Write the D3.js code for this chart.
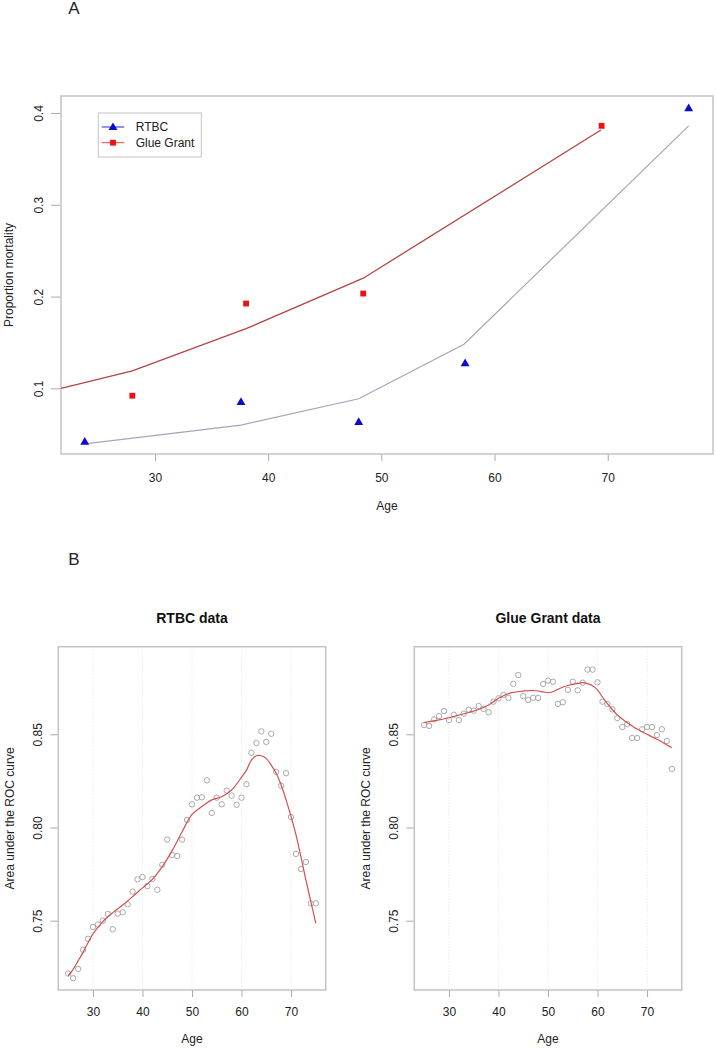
<!DOCTYPE html>
<html>
<head>
<meta charset="utf-8">
<script src="https://cdn.jsdelivr.net/npm/d3@7"></script>
<style>
  body { margin: 0; background: #fff; }
  svg { display: block; font-family: "Liberation Sans", Arial, sans-serif; }
</style>
</head>
<body>
<svg id="chart" width="716" height="1050"></svg>
<script>
// ---------- Panel A data ----------
const rtbcAges = [23.8, 37.6, 48.0, 57.4, 77.15];
const rtbcObserved = [0.0425, 0.0858, 0.064, 0.128, 0.4058];
const rtbcFitAges = [23.8, 37.6, 48.0, 57.3, 77.15];
const rtbcFitted = [0.0396, 0.060, 0.0887, 0.148, 0.386];

const glueAges = [28.0, 38.05, 48.4, 69.46];
const glueObserved = [0.092, 0.1924, 0.2033, 0.386];
const glueFitAges = [21.7, 28.0, 38.05, 48.4, 69.4];
const glueFitted = [0.100, 0.119, 0.165, 0.220, 0.3815];

const xTicksA = [30, 40, 50, 60, 70];
const yTicksA = [0.1, 0.2, 0.3, 0.4];
const legendLabels = ["RTBC", "Glue Grant"];

// ---------- Panel B data ----------
const aucAges = d3.range(25, 76); // 25..75 (one point per year of age)
const rtbcAUC = [
  0.7216, 0.7191, 0.7241, 0.7344, 0.7403, 0.7466, 0.7479, 0.7500, 0.7536, 0.7454,
  0.7538, 0.7545, 0.7588, 0.7656, 0.7722, 0.7734, 0.7685, 0.7724, 0.7666, 0.7800,
  0.7935, 0.7852, 0.7847, 0.7935, 0.8040, 0.8124, 0.8160, 0.8162, 0.8253, 0.8078,
  0.8160, 0.8124, 0.8198, 0.8171, 0.8122, 0.8160, 0.8232, 0.8401, 0.8453, 0.8516,
  0.8459, 0.8503, 0.8298, 0.8224, 0.8291, 0.8056, 0.7858, 0.7777, 0.7815, 0.7593,
  0.7593
];
const glueAUC = [
  0.8550, 0.8545, 0.8580, 0.8598, 0.8625, 0.8577, 0.8605, 0.8577, 0.8611, 0.8632,
  0.8627, 0.8652, 0.8636, 0.8618, 0.8675, 0.8693, 0.8711, 0.8695, 0.8771, 0.8818,
  0.8705, 0.8684, 0.8696, 0.8695, 0.8770, 0.8788, 0.8782, 0.8663, 0.8672, 0.8738,
  0.8782, 0.8736, 0.8777, 0.8847, 0.8847, 0.8779, 0.8675, 0.8663, 0.8634, 0.8587,
  0.8539, 0.8555, 0.8480, 0.8480, 0.8527, 0.8539, 0.8539, 0.8496, 0.8527, 0.8464,
  0.8314
];
// smoothed (loess) curves
const rtbcSmoothAges = [25, 26, 27, 28, 29, 30, 32, 34, 36, 38, 40, 42, 44, 46, 48, 50, 52, 54, 56, 58, 60, 61, 62, 63, 64, 65, 66, 67, 68, 69, 70, 71, 72, 73, 74, 75];
const rtbcSmooth = [0.7205, 0.7239, 0.7284, 0.7330, 0.7382, 0.7429, 0.7495, 0.7543, 0.7584, 0.7629, 0.7676, 0.7722, 0.7790, 0.7876, 0.7977, 0.8070, 0.8112, 0.8148, 0.8165, 0.8201, 0.8269, 0.8308, 0.8362, 0.8385, 0.8385, 0.8371, 0.8335, 0.8291, 0.8228, 0.8148, 0.8058, 0.7960, 0.7843, 0.7718, 0.7602, 0.7486];
const glueSmoothAges = [25, 28, 30, 32, 34, 36, 38, 39, 40, 41, 42, 43, 45, 47, 49, 50, 51, 52, 54, 56, 57, 58, 59, 60, 61, 62, 63, 64, 65, 66, 67, 68, 70, 72, 74, 75];
const glueSmooth = [0.8563, 0.8577, 0.8589, 0.8603, 0.8617, 0.8633, 0.8657, 0.8675, 0.8693, 0.8707, 0.8718, 0.8725, 0.8732, 0.8735, 0.8728, 0.8723, 0.8728, 0.8742, 0.8762, 0.8773, 0.8777, 0.8772, 0.8760, 0.8738, 0.8700, 0.8665, 0.8633, 0.8604, 0.8582, 0.8562, 0.8545, 0.8528, 0.8500, 0.8473, 0.8443, 0.8428];

const xTicksB = [30, 40, 50, 60, 70];
const yTicksB = [0.75, 0.80, 0.85];
const panelTitles = ["RTBC data", "Glue Grant data"];

// ---------- drawing ----------
const svg = d3.select("#chart");
const textCol = "#222";
const boxCol = "#c4c4c4";
const zip = (a, b) => a.map((v, i) => [v, b[i]]);

function styleAxis(g) {
  g.select(".domain").remove();
  g.selectAll(".tick line").attr("stroke", "#aaa").attr("stroke-width", 1);
  g.selectAll(".tick text").attr("fill", textCol).attr("font-size", 12)
    .attr("font-family", "Liberation Sans, Arial, sans-serif");
}

// Panel A
const A = { l: 61, t: 96, r: 713, b: 454 };
const xA = d3.scaleLinear().domain([21.7, 79.3]).range([A.l, A.r]);
const yA = d3.scaleLinear().domain([0.0285, 0.4185]).range([A.b, A.t]);

svg.append("text").attr("x", 74).attr("y", 14).attr("text-anchor", "middle")
  .attr("font-size", 17).attr("fill", textCol).text("A");

const gAx = svg.append("g").attr("transform", `translate(0,${A.b})`)
  .call(d3.axisBottom(xA).tickValues(xTicksA).tickSize(7).tickFormat(d3.format("d")));
styleAxis(gAx);
gAx.selectAll(".tick text").attr("y", 28).attr("dy", 0);

const gAy = svg.append("g").attr("transform", `translate(${A.l},0)`)
  .call(d3.axisLeft(yA).tickValues(yTicksA).tickSize(10).tickFormat(d3.format(".1f")));
styleAxis(gAy);
gAy.selectAll(".tick text").attr("transform", "rotate(-90)").attr("x", 0).attr("y", -18)
  .attr("dy", 0).attr("text-anchor", "middle");

svg.append("rect").attr("x", A.l).attr("y", A.t).attr("width", A.r - A.l).attr("height", A.b - A.t)
  .attr("fill", "none").attr("stroke", boxCol).attr("stroke-width", 1.5);

const lineA = d3.line().x(d => xA(d[0])).y(d => yA(d[1]));
svg.append("path").datum(zip(rtbcFitAges, rtbcFitted)).attr("d", lineA)
  .attr("fill", "none").attr("stroke", "#a4a4bc").attr("stroke-width", 1.2);
svg.append("path").datum(zip(glueFitAges, glueFitted)).attr("d", lineA)
  .attr("fill", "none").attr("stroke", "#b44444").attr("stroke-width", 1.3);

const tri = d3.symbol().type(d3.symbolTriangle).size(34);
const sq = d3.symbol().type(d3.symbolSquare).size(34);
svg.append("g").selectAll("path").data(zip(rtbcAges, rtbcObserved)).join("path")
  .attr("d", tri).attr("transform", d => `translate(${xA(d[0])},${yA(d[1]) + 1})`)
  .attr("fill", "#0a0ad0");
svg.append("g").selectAll("path").data(zip(glueAges, glueObserved)).join("path")
  .attr("d", sq).attr("transform", d => `translate(${xA(d[0])},${yA(d[1])})`)
  .attr("fill", "#ee1111");

svg.append("text").attr("x", (A.l + A.r) / 2).attr("y", 510).attr("text-anchor", "middle")
  .attr("font-size", 12).attr("fill", textCol).text("Age");
svg.append("text").attr("transform", `translate(13,${(A.t + A.b) / 2}) rotate(-90)`)
  .attr("text-anchor", "middle").attr("font-size", 12).attr("fill", textCol)
  .text("Proportion mortality");

// legend
const lg = svg.append("g");
lg.append("rect").attr("x", 98.3).attr("y", 113).attr("width", 103).attr("height", 44)
  .attr("fill", "#fff").attr("stroke", "#c4c4c4").attr("stroke-width", 1);
const legCols = ["#2a2ad8", "#e04444"];
const legMark = ["#0a0ad0", "#ee1111"];
legendLabels.forEach((lab, i) => {
  const y = 127 + i * 15.7;
  lg.append("line").attr("x1", 101.7).attr("x2", 124.3).attr("y1", y).attr("y2", y)
    .attr("stroke", legCols[i]).attr("stroke-width", 1);
  lg.append("path").attr("d", i === 0 ? tri : sq)
    .attr("transform", `translate(113,${y + (i === 0 ? 0.5 : 0)})`).attr("fill", legMark[i]);
  lg.append("text").attr("x", 135.7).attr("y", y + 4.3).attr("font-size", 12)
    .attr("fill", textCol).text(lab);
});

// Panel B
svg.append("text").attr("x", 74).attr("y", 565).attr("text-anchor", "middle")
  .attr("font-size", 17).attr("fill", textCol).text("B");

const B = { t: 646.7, b: 990 };
const yB = d3.scaleLinear().domain([0.7128, 0.8970]).range([B.b, B.t]);
const panels = [
  { l: 58.3, r: 325.7, pts: rtbcAUC, sAges: rtbcSmoothAges, s: rtbcSmooth, title: panelTitles[0] },
  { l: 414.3, r: 681.7, pts: glueAUC, sAges: glueSmoothAges, s: glueSmooth, title: panelTitles[1] }
];
panels.forEach(p => {
  const x = d3.scaleLinear().domain([23, 77]).range([p.l, p.r]);
  const g = svg.append("g");
  // grid
  g.append("g").selectAll("line").data(xTicksB).join("line")
    .attr("x1", d => x(d)).attr("x2", d => x(d)).attr("y1", B.t).attr("y2", B.b)
    .attr("stroke", "#dcdcdc").attr("stroke-width", 0.8).attr("stroke-dasharray", "1,2");
  const gx = g.append("g").attr("transform", `translate(0,${B.b})`)
    .call(d3.axisBottom(x).tickValues(xTicksB).tickSize(7).tickFormat(d3.format("d")));
  styleAxis(gx);
  gx.selectAll(".tick text").attr("y", 26).attr("dy", 0);
  const gy = g.append("g").attr("transform", `translate(${p.l},0)`)
    .call(d3.axisLeft(yB).tickValues(yTicksB).tickSize(8).tickFormat(d3.format(".2f")));
  styleAxis(gy);
  gy.selectAll(".tick text").attr("transform", "rotate(-90)").attr("x", 0).attr("y", -16)
    .attr("dy", 0).attr("text-anchor", "middle");
  g.append("rect").attr("x", p.l).attr("y", B.t).attr("width", p.r - p.l).attr("height", B.b - B.t)
    .attr("fill", "none").attr("stroke", boxCol).attr("stroke-width", 1.5);
  // points
  g.append("g").selectAll("circle").data(zip(aucAges, p.pts)).join("circle")
    .attr("cx", d => x(d[0])).attr("cy", d => yB(d[1])).attr("r", 2.7)
    .attr("fill", "none").attr("stroke", "#a0a0a0").attr("stroke-width", 0.9);
  // smooth curve
  g.append("path").datum(zip(p.sAges, p.s))
    .attr("d", d3.line().x(d => x(d[0])).y(d => yB(d[1])).curve(d3.curveCatmullRom))
    .attr("fill", "none").attr("stroke", "#d45050").attr("stroke-width", 1.2);
  // titles & labels
  g.append("text").attr("x", (p.l + p.r) / 2).attr("y", 623).attr("text-anchor", "middle")
    .attr("font-size", 14).attr("font-weight", "bold").attr("fill", "#111").text(p.title);
  g.append("text").attr("x", (p.l + p.r) / 2).attr("y", 1043).attr("text-anchor", "middle")
    .attr("font-size", 12).attr("fill", textCol).text("Age");
  g.append("text").attr("transform", `translate(${p.l - 44},${(B.t + B.b) / 2}) rotate(-90)`)
    .attr("text-anchor", "middle").attr("font-size", 12).attr("fill", textCol)
    .text("Area under the ROC curve");
});
</script>
</body>
</html>
